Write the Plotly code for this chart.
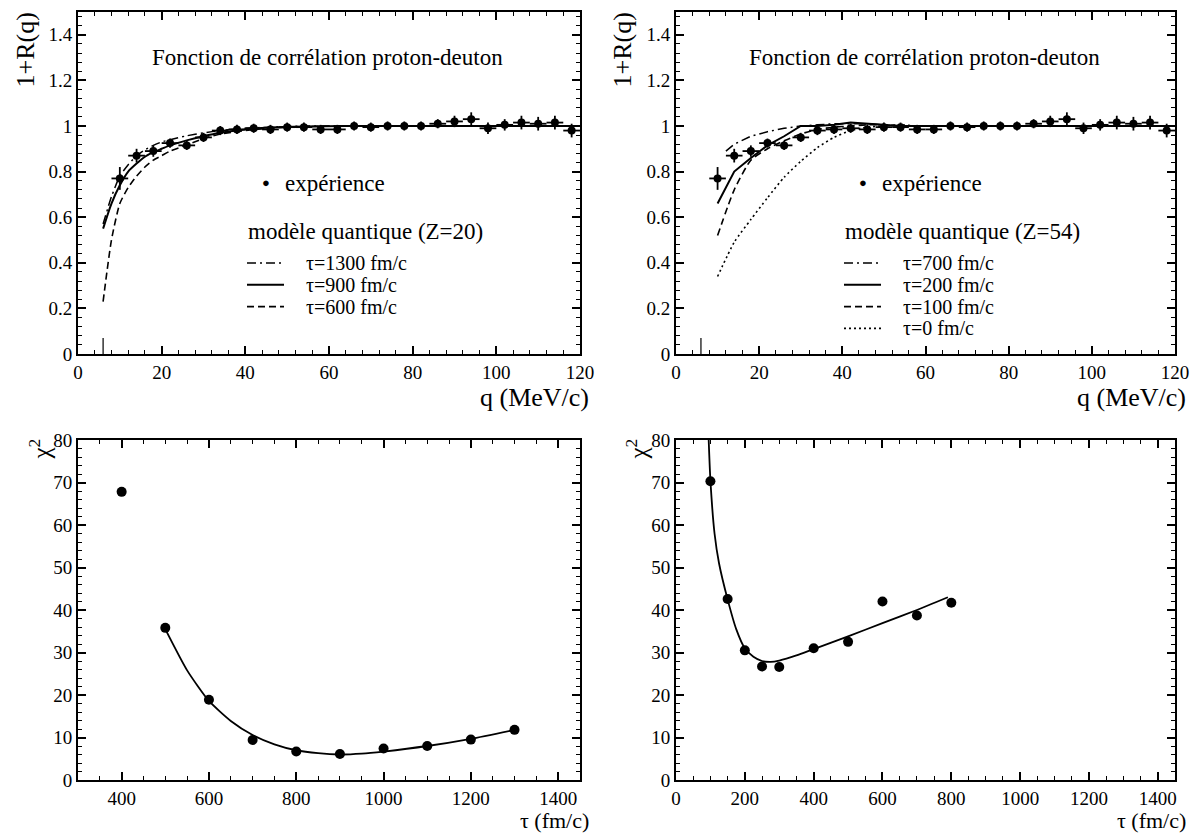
import plotly.graph_objects as go

W, H = 1194, 834
FONT = "Liberation Serif"

# ---------------- data ----------------
# experimental correlation function (both upper panels)
exp_q = [10, 14, 18, 22, 26, 30, 34, 38, 42, 46, 50, 54, 58, 62, 66, 70, 74, 78,
         82, 86, 90, 94, 98, 102, 106, 110, 114, 118]
exp_r = [0.77, 0.87, 0.89, 0.925, 0.915, 0.95, 0.98, 0.985, 0.99, 0.985, 0.995, 0.995,
         0.985, 0.985, 1.0, 0.995, 1.0, 1.0, 1.0, 1.01, 1.02, 1.03, 0.99, 1.005,
         1.015, 1.01, 1.015, 0.98]
exp_err = [0.05, 0.03, 0.025, 0.02, 0.02, 0.02, 0.02, 0.02, 0.02, 0.02, 0.02, 0.02,
           0.02, 0.02, 0.02, 0.02, 0.02, 0.02, 0.02, 0.02, 0.025, 0.03, 0.025, 0.025,
           0.03, 0.03, 0.03, 0.03]
exp_qerr = [2] * 28

# quantum model, Z=20
z20_q = [6, 8, 10, 12, 14, 16, 18, 20, 22, 26, 30, 34, 40, 46, 54, 64, 80, 100, 120]
z20_t1300 = [0.57, 0.69, 0.78, 0.83, 0.87, 0.895, 0.915, 0.93, 0.94, 0.957, 0.97, 0.98,
             0.99, 0.995, 1.0, 1.0, 1.0, 1.0, 1.0]
z20_t900 = [0.55, 0.66, 0.74, 0.80, 0.835, 0.865, 0.885, 0.90, 0.915, 0.937, 0.955, 0.97,
            0.985, 0.993, 0.998, 1.0, 1.0, 1.0, 1.0]
z20_t600 = [0.23, 0.50, 0.66, 0.73, 0.78, 0.82, 0.85, 0.87, 0.89, 0.917, 0.945, 0.965,
            0.98, 0.99, 0.997, 1.0, 1.0, 1.0, 1.0]

# quantum model, Z=54
z54_q = [10, 14, 18, 22, 26, 30, 34, 38, 42, 46, 50, 54, 58, 62, 70, 80, 90, 100, 110, 120]
z54_q700 = [12, 14, 18, 22, 26, 30, 34, 38, 42, 46, 50, 54, 58, 62, 70, 80, 90, 100, 110, 120]
z54_t700 = [0.89, 0.92, 0.955, 0.975, 0.99, 1.0, 1.005, 1.01, 1.01, 1.01, 1.005, 1.0,
            1.0, 1.0, 1.0, 1.0, 1.0, 1.0, 1.0, 1.0]
z54_t200 = [0.66, 0.80, 0.86, 0.915, 0.955, 1.0, 1.0, 1.005, 1.015, 1.01, 1.005, 1.0,
            1.0, 1.0, 1.0, 1.0, 1.0, 1.0, 1.0, 1.0]
z54_t100 = [0.52, 0.72, 0.85, 0.90, 0.935, 0.965, 0.985, 0.995, 1.0, 1.005, 1.005, 1.0,
            1.0, 1.0, 1.0, 1.0, 1.0, 1.0, 1.0, 1.0]
z54_t0 = [0.34, 0.49, 0.59, 0.685, 0.775, 0.845, 0.905, 0.95, 0.98, 0.995, 1.0, 1.005,
          1.0, 1.0, 1.0, 1.0, 1.0, 1.0, 1.0, 1.0]

# low-q cut marker
cut_q = [6, 6]
cut_r = [0, 0.07]

# chi2 vs emission time, Z=20
chi_z20_tau = [400, 500, 600, 700, 800, 900, 1000, 1100, 1200, 1300]
chi_z20 = [67.8, 35.8, 18.9, 9.4, 6.7, 6.1, 7.4, 8.0, 9.5, 11.8]
fit_z20_tau = [500, 550, 600, 650, 700, 750, 800, 850, 900, 950, 1000, 1100, 1200, 1300]
fit_z20 = [35.5, 25.8, 18.6, 13.9, 10.6, 8.4, 7.0, 6.3, 6.0, 6.2, 6.7, 8.0, 9.7, 11.8]

# chi2 vs emission time, Z=54
chi_z54_tau = [100, 150, 200, 250, 300, 400, 500, 600, 700, 800]
chi_z54 = [70.3, 42.6, 30.5, 26.7, 26.6, 31.0, 32.5, 42.0, 38.7, 41.7]
fit_z54_tau = [95, 100, 112, 125, 150, 175, 200, 225, 250, 275, 300, 350, 400, 500, 600, 700, 790]
fit_z54 = [80, 70.5, 58, 51, 42.5, 35.5, 31.0, 29.0, 28.0, 27.8, 28.1, 29.3, 30.8, 33.8, 36.9, 40.0, 43.0]


# ---------------- layout helpers (window pixel -> paper fraction) ----------------
def px(x):
    return x / W


def py(y):
    return 1 - y / H


XL = [px(78), px(580)]
XR = [px(676), px(1175)]
YT = [py(354), py(12)]
YB = [py(780), py(440)]

fig = go.Figure()

BLACK = "black"
DASH = "7px,4px"
DASHDOT = "9px,4px,2px,4px"
DOT = "2px,3px"


def exp_trace(xa, ya):
    return go.Scatter(
        x=exp_q, y=exp_r, mode="markers", xaxis=xa, yaxis=ya,
        marker=dict(color=BLACK, size=8, symbol="circle"),
        error_y=dict(type="data", array=exp_err, color=BLACK, thickness=1.8, width=0),
        error_x=dict(type="data", array=exp_qerr, color=BLACK, thickness=1.8, width=0),
        showlegend=False)


def line_trace(x, y, xa, ya, dash, width=1.8, shape="spline"):
    return go.Scatter(x=x, y=y, mode="lines", xaxis=xa, yaxis=ya,
                      line=dict(color=BLACK, width=width, dash=dash, shape=shape,
                                smoothing=0.6),
                      showlegend=False)


# top-left
fig.add_trace(line_trace(z20_q, z20_t1300, "x", "y", DASHDOT, 1.5))
fig.add_trace(line_trace(z20_q, z20_t900, "x", "y", "solid", 2))
fig.add_trace(line_trace(z20_q, z20_t600, "x", "y", DASH, 1.6))
fig.add_trace(line_trace(cut_q, cut_r, "x", "y", "solid", 1.2, "linear"))
fig.add_trace(exp_trace("x", "y"))

# top-right
fig.add_trace(line_trace(z54_q700, z54_t700, "x2", "y2", DASHDOT, 1.5, "linear"))
fig.add_trace(line_trace(z54_q, z54_t200, "x2", "y2", "solid", 2, "linear"))
fig.add_trace(line_trace(z54_q, z54_t100, "x2", "y2", DASH, 1.6))
fig.add_trace(line_trace(z54_q, z54_t0, "x2", "y2", DOT, 1.6))
fig.add_trace(line_trace(cut_q, cut_r, "x2", "y2", "solid", 1.2, "linear"))
fig.add_trace(exp_trace("x2", "y2"))

# bottom-left
fig.add_trace(line_trace(fit_z20_tau, fit_z20, "x3", "y3", "solid", 1.8))
fig.add_trace(go.Scatter(x=chi_z20_tau, y=chi_z20, mode="markers", xaxis="x3", yaxis="y3",
                         marker=dict(color=BLACK, size=10), showlegend=False))
# bottom-right
fig.add_trace(line_trace(fit_z54_tau, fit_z54, "x4", "y4", "solid", 1.8))
fig.add_trace(go.Scatter(x=chi_z54_tau, y=chi_z54, mode="markers", xaxis="x4", yaxis="y4",
                         marker=dict(color=BLACK, size=10), showlegend=False))

tickfont = dict(family=FONT, size=19, color=BLACK)


def ax(domain, rng, dtick, minor_dtick, anchor):
    return dict(domain=domain, range=rng, dtick=dtick, tick0=0, anchor=anchor,
                showline=True, linecolor=BLACK, linewidth=2, mirror="allticks",
                ticks="inside", ticklen=8, tickwidth=1.5, tickcolor=BLACK,
                showgrid=False, zeroline=False, tickfont=tickfont, automargin=False,
                minor=dict(ticks="inside", dtick=minor_dtick, tick0=0, ticklen=4,
                           tickwidth=1, tickcolor=BLACK, showgrid=False))


fig.update_layout(
    width=W, height=H,
    margin=dict(l=0, r=0, t=0, b=0, pad=0, autoexpand=False),
    paper_bgcolor="white", plot_bgcolor="white",
    showlegend=False,
    font=dict(family=FONT, color=BLACK),
    xaxis=ax(XL, [0, 120], 20, 4, "y"),
    yaxis=ax(YT, [0, 1.5], 0.2, 0.04, "x"),
    xaxis2=ax(XR, [0, 120], 20, 4, "y2"),
    yaxis2=ax(YT, [0, 1.5], 0.2, 0.04, "x2"),
    xaxis3=ax(XL, [300, 1450], 200, 50, "y3"),
    yaxis3=ax(YB, [0, 80], 10, 2, "x3"),
    xaxis4=ax(XR, [0, 1450], 200, 50, "y4"),
    yaxis4=ax(YB, [0, 80], 10, 2, "x4"),
)

annotations = []
shapes = []


def text(x, y, s, size=20, xanchor="left", yanchor="middle", angle=0):
    annotations.append(dict(x=px(x), y=py(y), xref="paper", yref="paper", text=s,
                            showarrow=False, xanchor=xanchor, yanchor=yanchor,
                            textangle=angle,
                            font=dict(family=FONT, size=size, color=BLACK)))


def sample(x0, x1, y, dash, width=1.8):
    shapes.append(dict(type="line", xref="paper", yref="paper",
                       x0=px(x0), x1=px(x1), y0=py(y), y1=py(y),
                       line=dict(color=BLACK, width=width, dash=dash)))


for off, z, rows in [(0, "20", [("τ=1300 fm/c", DASHDOT, 1.5), ("τ=900 fm/c", "solid", 2),
                                  ("τ=600 fm/c", DASH, 1.6)]),
                     (597, "54", [("τ=700 fm/c", DASHDOT, 1.5), ("τ=200 fm/c", "solid", 2),
                                  ("τ=100 fm/c", DASH, 1.6), ("τ=0 fm/c", DOT, 1.6)])]:
    text(327 + off, 57, "Fonction de corrélation proton-deuton", 23, "center")
    text(266 + off, 183, "●", 13, "center")
    text(283 + off, 184, "expérience", 23)
    text(246 + off, 231, "modèle quantique (Z=%s)" % z, 23)
    for i, (lab, dash, w) in enumerate(rows):
        yy = 263 + 21.8 * i
        sample(247 + off, 284 + off, yy, dash, w)
        text(304 + off, yy, lab, 20)
    text(591 + off, 398, "q (MeV/c)", 26, "right")
    text(591 + off, 835, "τ (fm/c)", 22, "right", "bottom")
    text(25 + off, 11, "1+R(q)", 26, "center", "top", -90)
    text(40 + off, 437, "χ<sup>2</sup>", 25, "center", "top", -90)

fig.update_layout(annotations=annotations, shapes=shapes)

# make the page exactly the figure: no body margin, no scrollbars
fix_page = ("document.documentElement.style.margin='0';"
            "document.documentElement.style.overflow='hidden';"
            "document.body.style.margin='0';"
            "document.body.style.overflow='hidden';")

fig.write_html("out.html", post_script=fix_page, config={"displayModeBar": False})
